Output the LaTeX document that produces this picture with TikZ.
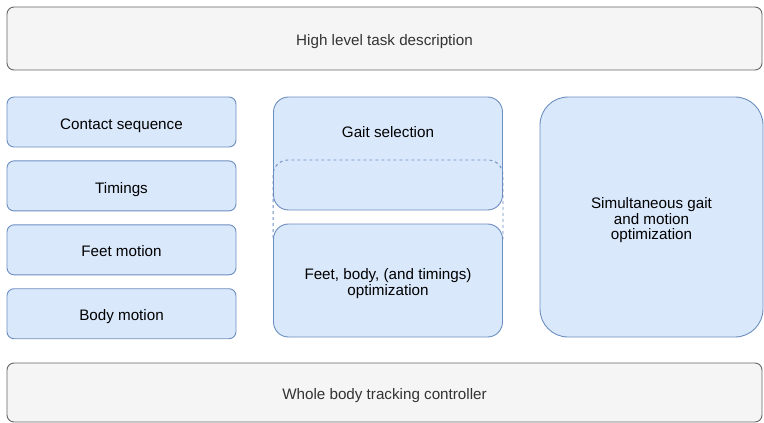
\documentclass[tikz,border=0pt]{standalone}
\usepackage{fontspec}
\setmainfont{Liberation Sans}
\usetikzlibrary{positioning}
\definecolor{taskfill}{HTML}{F5F5F5}
\definecolor{taskline}{HTML}{666666}
\definecolor{stagefill}{HTML}{DAE8FC}
\definecolor{stageline}{HTML}{6C8EBF}
% text a bit lower than the box centre, box size kept
\newcommand\boxtext[2][-4pt]{\raisebox{#1}[\height][\depth]{\begin{tabular}{@{}c@{}}#2\end{tabular}}}

\begin{document}
\begin{tikzpicture}[x=1pt, y=-1pt, node distance=13pt, font=\fontsize{15.2}{15.5}\selectfont,
    taskbox/.style={draw=taskline, fill=taskfill, text=black!80, line width=0.9pt, rounded corners=7pt,
      minimum width=755pt, minimum height=63pt, inner sep=0pt},
    stagebox/.style={draw=stageline, fill=stagefill, line width=0.9pt, rounded corners=7pt,
      minimum width=229pt, minimum height=50pt, inner sep=0pt}]
    \useasboundingbox (0,0) rectangle (764,423);

    % task layer and controller layer
    \node[taskbox] (task) at (384.5,38.5) {\boxtext{High level task description}};
    \node[taskbox, minimum height=59pt] (ctrl) at (384.5,392.5) {\boxtext{Whole body tracking controller}};

    % decoupled pipeline
    \node[stagebox] (contact) at (121.5,122) {\boxtext{Contact sequence}};
    \node[stagebox, below=of contact] (timing) {\boxtext{Timings}};
    \node[stagebox, below=of timing] (feet) {\boxtext{Feet motion}};
    \node[stagebox, below=of feet] (body) {\boxtext{Body motion}};

    % gait selection followed by motion optimization
    \node[stagebox, minimum height=113pt, rounded corners=15pt] (gait) at (388,153.5) {\boxtext[19.5pt]{Gait selection}};
    \draw[stageline, line width=0.9pt, dashed, rounded corners=15pt] (gait.west |- 0,160) rectangle (gait.east |- 0,252);
    \node[stagebox, minimum height=113pt, rounded corners=15pt] (motion) at (388,280.5)
      {\boxtext{Feet, body, (and timings)\\optimization}};

    % all in one
    \node[stagebox, minimum width=223pt, minimum height=240pt, rounded corners=28pt] (joint) at (651.5,217)
      {\boxtext{Simultaneous gait\\and motion\\optimization}};
\end{tikzpicture}
\end{document}
